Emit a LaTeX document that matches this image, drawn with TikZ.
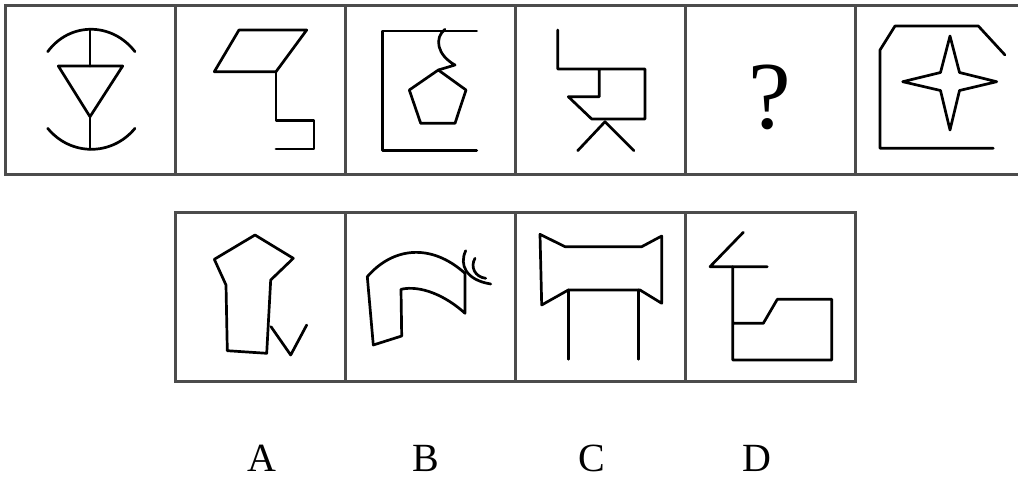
\documentclass[tikz,border=0pt]{standalone}
\usepackage{fontspec}
\setmainfont{Liberation Serif}
\begin{document}
\begin{tikzpicture}[x=1pt,y=1pt,yscale=-1,
  frame/.style={draw=black!70, line width=3pt},
  fig/.style={draw=black, line width=2.7pt, line join=round, line cap=round},
  lbl/.style={font=\fontsize{40}{40}\selectfont, anchor=base, inner sep=0pt}]
\useasboundingbox (0,0) rectangle (1018,479);
% top row frame
\draw[frame] (1020,5.5) -- (5,5.5) -- (5,174) -- (1020,174);
\foreach \x in {175,345,515,685,855} \draw[frame] (\x,5.5) -- (\x,174);
% bottom row frame
\draw[frame] (175,212.5) rectangle (855,381);
\foreach \x in {345,515,685} \draw[frame] (\x,212.5) -- (\x,381);

% cell 1
\draw[fig] (47.7,51.7) .. controls (69.7,21.8) and (112,21.8) .. (135,51.7);
\draw[fig] (47.7,128.3) .. controls (70.7,156.3) and (112,156.3) .. (135,128.3);
\draw[fig] (90,29.3) -- (90,66);
\draw[fig] (58.3,66) -- (122.7,66) -- (90,116.7) -- cycle;
\draw[fig] (90,116.7) -- (90,149.3);

% cell 2
\draw[fig] (239,30) -- (306.7,30) -- (276,71.7) -- (214.3,71.7) -- cycle;
\draw[fig] (276,71.7) -- (276,120.7) -- (314,120.7) -- (314,149) -- (276,149);

% cell 3
\draw[fig] (476.7,31) -- (382.7,31) -- (382.7,150.7) -- (476.7,150.7);
\draw[fig] (445,29.3) .. controls (434,38) and (437,55) .. (455,65) -- (438.3,70);
\draw[fig] (438.3,70) -- (466,90) -- (455,123.3) -- (420.7,123.3) -- (409.3,90) -- cycle;

% cell 4
\draw[fig] (557.7,30) -- (557.7,69) -- (645,69) -- (645,119) -- (591.7,119) -- (568.3,96.7) -- (599.3,96.7) -- (599.3,69);
\draw[fig] (577.7,150.7) -- (605,121.7) -- (634,150.7);

% cell 5
\node[font=\fontsize{96}{96}\selectfont, anchor=base, inner sep=0pt] (q) at (770,128) {?};

% cell 6
\draw[fig] (1005,55) -- (978.3,26) -- (895,26) -- (880,50) -- (880,148.3) -- (993.3,148.3);
\draw[fig] (950,36) -- (959.5,72.5) -- (996.7,81.7) -- (959.5,90.5) -- (950,130) -- (940.5,90.5) -- (902.7,81.7) -- (940.5,72.5) -- cycle;

% option A
\draw[fig] (255,235) -- (293.3,258.3) -- (270.7,280) -- (266.7,353.3) -- (227.3,350.7) -- (226,285) -- (214.3,259.3) -- cycle;
\draw[fig] (271,326.7) -- (290.7,355) -- (306.7,325);

% option B
\draw[fig] (367.3,276.7) .. controls (392,248) and (430,242) .. (465,273.3) -- (465,313.3)
  .. controls (445,295) and (420,285) .. (401,289.3) -- (401.7,336) -- (373.3,345) -- cycle;
\draw[fig] (465.7,250.7) .. controls (459,265) and (466,280) .. (490.7,284);
\draw[fig] (475,258.3) .. controls (470,267) and (475,277) .. (485.7,278.3);

% option C
\draw[fig] (540,234.3) -- (565,246.7) -- (641.7,246.7) -- (661.7,236) -- (661.7,303.3) -- (640,290) -- (568.3,290) -- (541.7,305) -- cycle;
\draw[fig] (568.3,290) -- (568.3,359.3);
\draw[fig] (638.3,290) -- (638.3,359.3);

% option D
\draw[fig] (743.3,232.3) -- (710,266.7) -- (767.3,266.7);
\draw[fig] (732.7,266.7) -- (732.7,360) -- (831.7,360) -- (831.7,299.3) -- (777.3,299.3) -- (763.3,323.3) -- (732.7,323.3);

% labels
\node[lbl] (la) at (262,471) {A};
\node[lbl] (lb) at (426,471) {B};
\node[lbl] (lc) at (592,471) {C};
\node[lbl] (ld) at (757,471) {D};
\end{tikzpicture}
\end{document}
